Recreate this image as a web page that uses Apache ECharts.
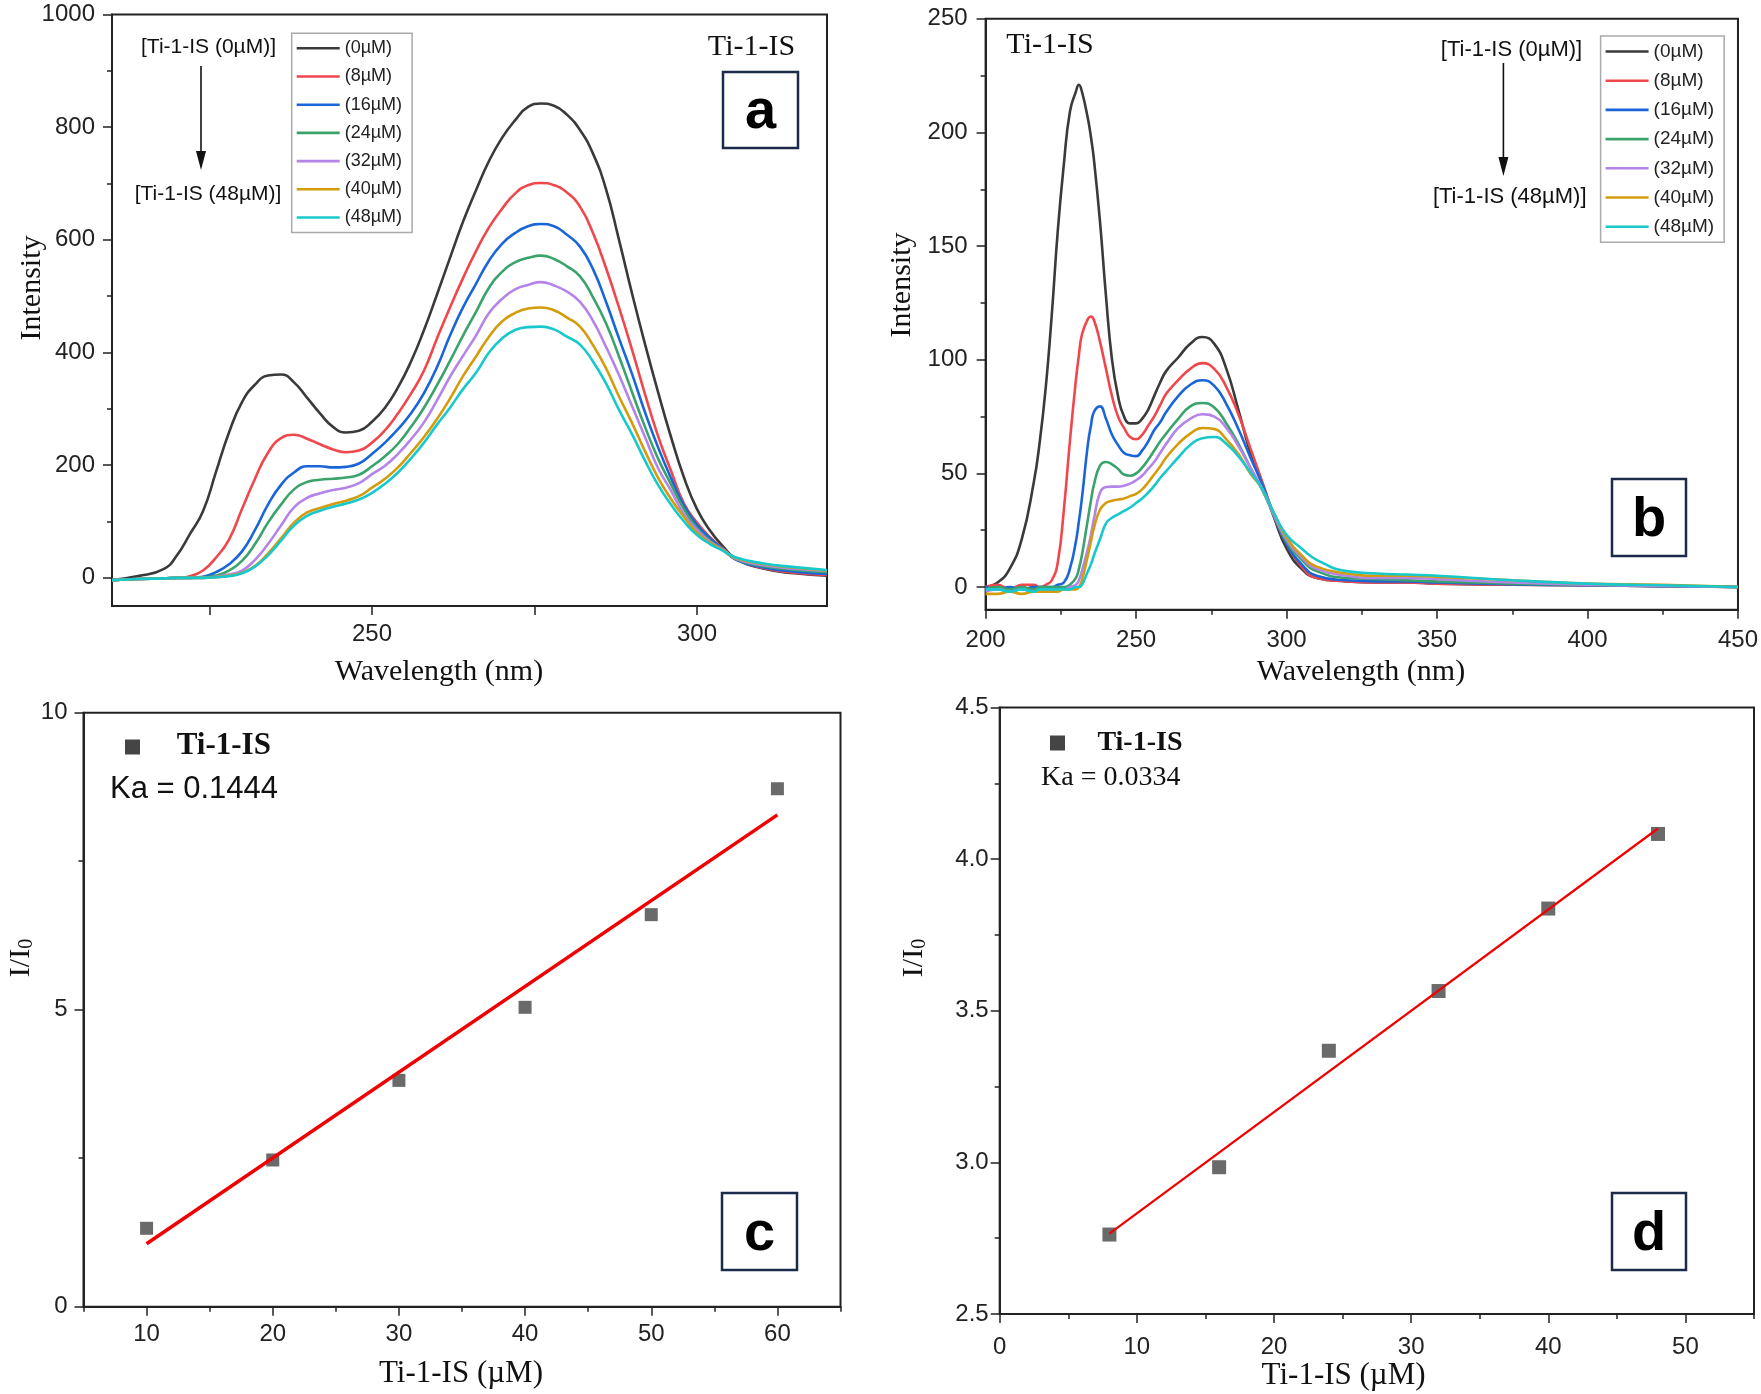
<!DOCTYPE html>
<html>
<head>
<meta charset="utf-8">
<script src="https://cdn.jsdelivr.net/npm/echarts@6/dist/echarts.min.js"></script>
<style>
  html, body { margin: 0; padding: 0; background: #fff; }
  #chart { width: 1761px; height: 1394px; }
</style>
</head>
<body>
<div id="chart"></div>
<script>
// ---- data ----
const concNames = ['(0µM)', '(8µM)', '(16µM)', '(24µM)', '(32µM)', '(40µM)', '(48µM)'];
const concColors = ['#3a3a3a', '#f0474d', '#1a66d9', '#3aa36b', '#b584e8', '#d49c0c', '#17c9cc'];

// panel a: wavelength (nm)
const wlA = [210,214,218,220,222,224,226,228,230,232,234,236,238,240,242,244,246,248,250,252,254,256,258,260,262,264,266,268,270,272,274,276,278,280,282,284,286,288,290,292,294,296,298,300,302,304,306,310,315,320];
const a0  = [-4,3,16,40,78,118,188,258,312,343,359,361,347,320,292,268,258,261,277,302,338,384,440,503,568,632,688,740,781,812,836,842,838,822,795,753,690,600,505,415,330,250,178,122,84,56,34,17,8,4];
const a8  = [-4,-2,-1,0,3,13,36,68,122,176,222,248,254,247,237,228,223,226,240,262,292,327,368,425,480,532,580,622,655,682,697,701,697,684,659,612,550,480,405,326,252,190,132,98,72,52,33,18,9,5];
const a16 = [-4,-2,-1,0,0,2,10,24,47,85,130,165,187,198,198,196,197,203,220,240,264,292,328,374,430,480,522,563,593,612,624,628,624,609,588,548,490,425,362,294,232,177,128,94,70,51,32,19,11,7];
const a24 = [-4,-2,-1,0,0,1,4,13,30,60,98,130,157,170,174,176,178,183,198,216,238,268,302,342,385,430,472,515,543,560,568,572,566,553,535,498,452,393,330,268,212,166,122,88,66,50,33,21,14,10];
const a32 = [-4,-2,-1,0,0,0,2,6,13,32,60,93,125,142,150,156,160,168,184,199,220,246,276,315,357,394,430,470,495,512,520,525,519,508,490,456,410,360,305,250,195,155,113,85,64,50,34,23,16,12];
const a40 = [-4,-2,-1,0,0,0,1,4,9,21,43,70,98,116,124,131,137,145,160,176,196,222,250,282,318,358,393,428,455,470,478,480,475,462,446,413,372,322,275,225,178,140,108,80,62,49,35,25,18,13];
const a48 = [-4,-2,-1,0,0,0,1,3,8,20,40,66,93,110,119,126,132,139,151,167,187,212,240,272,302,335,364,400,425,440,445,446,441,428,414,384,345,298,255,208,165,130,100,76,60,48,36,26,19,14];

// panel b: wavelength (nm)
const wlB = [200,204,208,212,216,218,220,222,224,226,228,230,231,232,234,235,236,238,240,242,244,246,248,250,252,254,256,258,260,264,268,272,276,280,284,288,292,296,300,305,310,320,330,340,350,375,400,425,450];
const b0  = [0,2,8,21,46,64,88,120,157,186,209,218,221,218,206,198,188,161,128,100,84,75,72,72,74,78,84,90,95,101,107,110,107,96,78,59,45,30,17,8,4,2.5,2,2,1.5,1,0.8,0.4,0];
const b8  = [0,1,-1,1,1,0,1,3,11,34,64,91,102,111,118,119,117.5,108,96,84,75,70,66,65,67,71,75,80,85,91,96,98.5,96,88,76,61,46,31,19,9,4,2.5,2,2,1.5,1,0.8,0.4,0];
const b16 = [0,-1,0,-1,0,0,0,0,1,2,8,20,29,39,63,71,77,79.5,74,67,62.5,59,58,57.6,60,64,69,72.5,77,84,89,91,88.5,80.5,69.5,57,45,31,19,10,5,3,2.5,2.5,2,1.2,0.8,0.4,0];
const b24 = [-1,0,-1,0,-1,0,0,0,0,0,1,4,8,14,30,38,45,53.4,55,54,52,49.5,49,50,52.5,56,60,64,67.5,74,79.5,81,79,72,63,52.5,42.5,31,20,12,7,4,3.5,3,2.5,1.5,1,0.5,0];
const b32 = [-2,-1,-2,-1,-2,-1,-1,-1,-1,-1,0,1,3,7,17,23,30,41.5,44,44.2,44.2,44.6,45.5,47,49,52,55,59,63,70,74,76,75,70,62,52.5,43,31,21,13,8,5,4,4,3.5,2,1,0.5,0];
const b40 = [-3,-3,-2,-3,-2,-2,-2,-2,-2,-1,-1,-1,0,3,14,20,26,34,37,38,38.5,39,40,41,43,46,49.5,53,57,63,67.5,70,69.5,65,58.5,50,43,32,22,14,9,6,5,5,4.5,3,1.5,1,0];
const b48 = [-1,-1,-2,-1,-2,-1,-1,-1,-1,-1,-1,0,0,1,7,10,14,21,28,30.5,32,33.5,35,37,39,41.5,44.5,48,51,57,62.5,65.5,66,63,57.5,50.5,43,32,23,17,12,7,6,5.5,5,3,1.5,0.8,0];

// panel c: I/I0 vs Ti-1-IS (µM)
const concC = [10, 20, 30, 40, 50, 60];
const ratioC = [1.32, 2.47, 3.81, 5.04, 6.60, 8.72];
const fitXC = [10, 60];
const fitYC = [1.06, 8.28];

// panel d
const concD = [8, 16, 24, 32, 40, 48];
const ratioD = [2.762, 2.984, 3.368, 3.565, 3.837, 4.083];
const fitXD = [8, 48];
const fitYD = [2.765, 4.101];

// tick values
const aXLabels = [250, 300], aXTicks = [225, 250, 275, 300];
const aYLabels = [0, 200, 400, 600, 800, 1000], aYMinor = [100, 300, 500, 700, 900];
const bXLabels = [200, 250, 300, 350, 400, 450], bXMinor = [225, 275, 325, 375, 425];
const bYLabels = [0, 50, 100, 150, 200, 250], bYMinor = [25, 75, 125, 175, 225];
const cXLabels = [10, 20, 30, 40, 50, 60], cXMinor = [5, 15, 25, 35, 45, 55, 65];
const cYLabels = [0, 5, 10], cYMinor = [2.5, 7.5];
const dXLabels = [0, 10, 20, 30, 40, 50], dXMinor = [5, 15, 25, 35, 45, 55];
const dYLabels = [2.5, 3.0, 3.5, 4.0, 4.5], dYMinor = [2.75, 3.25, 3.75, 4.25];

const SANS = 'Liberation Sans', SERIF = 'Liberation Serif';
const INK = '#222';

let chart = echarts.init(document.getElementById('chart'));

function pair(dim, g, min, max, labels, ticks, minor, margin, fmt) {
    let pos = dim === 'x' ? 'bottom' : 'left';
    let main = {
        type: 'value', gridIndex: g, min: min, max: max, position: pos,
        axisLine: { show: true, onZero: false, lineStyle: { color: INK, width: 2 } },
        axisTick: { show: true, customValues: ticks, length: 9, lineStyle: { color: INK, width: 1.5 } },
        axisLabel: { customValues: labels, margin: margin, fontSize: 24, color: INK, fontFamily: SANS,
            formatter: fmt || (v => String(v)) },
        splitLine: { show: false }
    };
    let sub = {
        type: 'value', gridIndex: g, min: min, max: max, position: pos,
        axisLine: { show: false, onZero: false },
        axisTick: minor ? { show: true, customValues: minor, length: 5, lineStyle: { color: INK, width: 1.5 } } : { show: false },
        axisLabel: { show: false },
        splitLine: { show: false }
    };
    return [main, sub];
}

const grids = [
    { left: 112, top: 14.5, width: 715, height: 591.5 },
    { left: 985.6, top: 18.8, width: 754, height: 591 },
    { left: 83.5, top: 712.7, width: 757, height: 594 },
    { left: 999.7, top: 707.5, width: 754.3, height: 606.5 }
].map(g => Object.assign(g, { show: true, borderColor: INK, borderWidth: 2, backgroundColor: 'transparent' }));

let xAxes = [].concat(
    pair('x', 0, 210, 320, aXLabels, aXTicks, null, 16),
    pair('x', 1, 200, 450, bXLabels, bXLabels, bXMinor, 19),
    pair('x', 2, 5, 65, cXLabels, cXLabels, cXMinor, 16),
    pair('x', 3, 0, 55, dXLabels, dXLabels, dXMinor, 21)
);
let yAxes = [].concat(
    pair('y', 0, -50, 1000, aYLabels, aYLabels, aYMinor, 17),
    pair('y', 1, -10, 250, bYLabels, bYLabels, bYMinor, 18),
    pair('y', 2, 0, 10, cYLabels, cYLabels, cYMinor, 16),
    pair('y', 3, 2.5, 4.5, dYLabels, dYLabels, dYMinor, 11, v => v.toFixed(1))
);

function zip(xs, ys) { return xs.map((x, i) => [x, ys[i]]); }

let series = [];
[a0, a8, a16, a24, a32, a40, a48].forEach((ys, i) => {
    series.push({
        name: concNames[i], type: 'line', xAxisIndex: 0, yAxisIndex: 0,
        data: zip(wlA, ys), smooth: 0.5, symbol: 'none',
        lineStyle: { color: concColors[i], width: 2.6 }, itemStyle: { color: concColors[i] }
    });
});
[b0, b8, b16, b24, b32, b40, b48].forEach((ys, i) => {
    series.push({
        name: concNames[i], type: 'line', xAxisIndex: 2, yAxisIndex: 2,
        data: zip(wlB, ys), smooth: 0.5, symbol: 'none',
        lineStyle: { color: concColors[i], width: 2.6 }, itemStyle: { color: concColors[i] }
    });
});
series.push(
    { type: 'line', xAxisIndex: 4, yAxisIndex: 4, data: zip(fitXC, fitYC), symbol: 'none',
      lineStyle: { color: '#f00000', width: 3.5 }, z: 3 },
    { type: 'scatter', xAxisIndex: 4, yAxisIndex: 4, data: zip(concC, ratioC), symbol: 'rect',
      symbolSize: 13, itemStyle: { color: '#454545' }, z: 2 },
    { type: 'line', xAxisIndex: 6, yAxisIndex: 6, data: zip(fitXD, fitYD), symbol: 'none',
      lineStyle: { color: '#f00000', width: 2.2 }, z: 3 },
    { type: 'scatter', xAxisIndex: 6, yAxisIndex: 6, data: zip(concD, ratioD), symbol: 'rect',
      symbolSize: 14, itemStyle: { color: '#454545' }, z: 2 }
);

function legendAt(left, top, fs) {
    return {
        left: left, top: top, orient: 'vertical', data: concNames,
        icon: 'path://M0,0h43v2.6h-43z',
        itemWidth: 43, itemHeight: 14, itemGap: 10.2,
        padding: [6, 10, 6, 5], borderColor: '#aaa', borderWidth: 1.5,
        textStyle: { fontFamily: SANS, fontSize: fs, color: INK },
        selectedMode: false
    };
}

function txt(x, y, s, size, font, opts) {
    return Object.assign({
        type: 'text', x: x, y: y, z: 10,
        style: Object.assign({ text: s, fontSize: size, fontFamily: font, fill: '#111',
            align: 'center', verticalAlign: 'middle' }, (opts && opts.style) || {})
    }, opts && opts.rotation ? { rotation: opts.rotation } : {});
}

function letterBox(x, y, w, h, ch) {
    return [
        { type: 'rect', z: 9, shape: { x: x, y: y, width: w, height: h },
          style: { fill: '#fff', stroke: '#1c2b4a', lineWidth: 2.5 } },
        txt(x + w / 2, y + h - 35, ch, 56, SANS, { style: { fontWeight: 'bold', fill: '#000' } })
    ];
}

function arrow(x, y1, y2) {
    return [
        { type: 'line', z: 10, shape: { x1: x, y1: y1, x2: x, y2: y2 - 14 }, style: { stroke: '#111', lineWidth: 1.6 } },
        { type: 'polygon', z: 10, shape: { points: [[x - 5, y2 - 19], [x + 5, y2 - 19], [x, y2]] }, style: { fill: '#111' } }
    ];
}

const ratioRich = {
    text: '{m|I/I}{s|0}',
    rich: { m: { fontSize: 30, fontFamily: SERIF, fill: '#111' },
            s: { fontSize: 20, fontFamily: SERIF, fill: '#111', verticalAlign: 'bottom', padding: [12, 0, 0, 0] } }
};

let graphics = [].concat(
    // panel a
    txt(751.5, 47, 'Ti-1-IS', 30, SERIF),
    txt(208.5, 47, '[Ti-1-IS (0µM)]', 21, SANS),
    txt(208, 194, '[Ti-1-IS (48µM)]', 21, SANS),
    arrow(201, 66, 170),
    letterBox(723, 72, 75, 76, 'a'),
    txt(32, 288, 'Intensity', 30, SERIF, { rotation: Math.PI / 2 }),
    txt(439, 672, 'Wavelength (nm)', 30, SERIF),
    // panel b
    txt(1050, 45, 'Ti-1-IS', 30, SERIF),
    txt(1511.5, 50, '[Ti-1-IS (0µM)]', 22, SANS),
    txt(1509.7, 197, '[Ti-1-IS (48µM)]', 22, SANS),
    arrow(1503.4, 63, 176),
    letterBox(1612, 479, 74, 77, 'b'),
    txt(902, 285, 'Intensity', 30, SERIF, { rotation: Math.PI / 2 }),
    txt(1361, 672, 'Wavelength (nm)', 30, SERIF),
    // panel c
    { type: 'rect', z: 10, shape: { x: 125, y: 739.5, width: 15, height: 15 }, style: { fill: '#454545' } },
    txt(176.7, 746, 'Ti-1-IS', 31, SERIF, { style: { align: 'left', fontWeight: 'bold' } }),
    txt(110, 789, 'Ka = 0.1444', 31, SANS, { style: { align: 'left' } }),
    letterBox(722, 1193, 75, 77, 'c'),
    { type: 'text', x: 21, y: 958, rotation: Math.PI / 2, z: 10,
      style: Object.assign({ align: 'center', verticalAlign: 'middle' }, ratioRich) },
    txt(461, 1374, 'Ti-1-IS (µM)', 31, SERIF),
    // panel d
    { type: 'rect', z: 10, shape: { x: 1050, y: 735.5, width: 15, height: 15 }, style: { fill: '#454545' } },
    txt(1097.4, 743, 'Ti-1-IS', 28, SERIF, { style: { align: 'left', fontWeight: 'bold' } }),
    txt(1041, 778, 'Ka = 0.0334', 28, SERIF, { style: { align: 'left' } }),
    letterBox(1612, 1193, 74, 77, 'd'),
    { type: 'text', x: 914, y: 958, rotation: Math.PI / 2, z: 10,
      style: Object.assign({ align: 'center', verticalAlign: 'middle' }, ratioRich) },
    txt(1343.6, 1376, 'Ti-1-IS (µM)', 31, SERIF)
);

let option = {
    animation: false,
    backgroundColor: '#fff',
    grid: grids,
    xAxis: xAxes,
    yAxis: yAxes,
    legend: [legendAt(291.7, 33.3, 18), legendAt(1600.6, 36, 19)],
    series: series,
    graphic: { elements: graphics }
};
chart.setOption(option);
</script>
</body>
</html>
